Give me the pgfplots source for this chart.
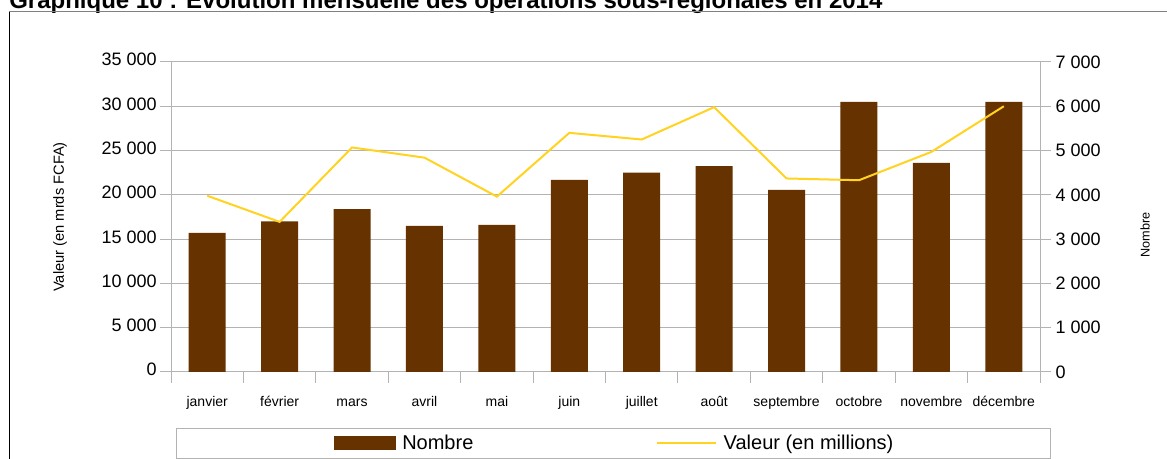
\documentclass[border=0pt]{standalone}
\usepackage{fontspec}
\setmainfont{Liberation Sans}
\usepackage{pgfplots}
\usepackage{pgfplotstable}
\pgfplotsset{compat=1.18}
\definecolor{barbrown}{HTML}{663300}
\definecolor{lineyellow}{HTML}{FFD320}
\definecolor{gridgray}{HTML}{B3B3B3}

\pgfplotstableread{
x nombre valeur
0  15700 3980
1  17000 3390
2  18400 5070
3  16500 4840
4  16600 3960
5  21700 5400
6  22500 5250
7  23250 5980
8  20550 4370
9  30500 4330
10 23600 4970
11 30500 6000
}\data

\pgfplotsset{
  common/.style={
    at={(128.25pt,65.25pt)}, anchor=south west,
    scale only axis, width=651.75pt, height=232.5pt,
    xmin=-0.5, xmax=11.5,
    axis line style={gridgray, line width=0.75pt},
    tick style={gridgray, line width=0.75pt},
    tick align=outside,
    major tick length=8.25pt,
    minor tick length=8.25pt,
    clip=false,
    scaled y ticks=false,
    /pgf/number format/.cd, 1000 sep={\ }, assume math mode=true,
  },
}

\begin{document}
\begin{tikzpicture}
\useasboundingbox (0pt,0pt) rectangle (875.25pt,344.25pt);
\clip (0pt,0pt) rectangle (875.25pt,344.25pt);

\node[anchor=base west, inner sep=0pt, font=\fontsize{18}{21}\selectfont\bfseries] at (6.75pt,338pt)
  {Graphique 10 : Evolution mensuelle des opérations sous-régionales en 2014};
\draw[black, line width=0.75pt] (6.75pt,-5pt) -- (6.75pt,335.6pt);
\draw[gray, line width=0.75pt] (6.75pt,335.6pt) -- (880pt,335.6pt);

\begin{axis}[common,
  ymin=0, ymax=35000,
  axis x line*=bottom, axis y line*=left,
  xtick={0,...,11},
  xticklabels={janvier,février,mars,avril,mai,juin,juillet,août,septembre,octobre,novembre,décembre},
  major x tick style={draw=none},
  minor xtick={-0.5,0.5,...,11.5},
  ytick={0,5000,...,35000},
  ymajorgrids,
  grid style={gridgray, line width=0.75pt},
  yticklabel style={font=\fontsize{13.5}{15}\selectfont, xshift=1pt},
  typeset ticklabels with strut,
  xticklabel style={font=\fontsize{10.5}{12}\selectfont, yshift=-5.5pt},
  ylabel={Valeur (en mrds FCFA)},
  ylabel style={font=\fontsize{11}{13}\selectfont, at={(axis description cs:-0.1277,0.5)}, anchor=center},
]
\addplot[ybar, bar width=27.75pt, fill=barbrown, draw=none] table[x=x, y=nombre] {\data};
\end{axis}

\begin{axis}[common,
  ymin=0, ymax=7000,
  axis x line=none, axis y line*=right,
  ytick={0,1000,...,7000},
  yticklabel style={font=\fontsize{13.5}{15}\selectfont},
  ylabel={Nombre},
  ylabel style={font=\fontsize{9.5}{11}\selectfont, at={(axis description cs:1.1208,0.442)}, anchor=center},
  legend columns=2,
  legend style={at={(axis description cs:0.5092,-0.2306)}, anchor=center,
    draw=gridgray, line width=0.75pt,
    font=\fontsize{15}{18}\selectfont,
    inner xsep=118pt, inner ysep=5.25pt,
    nodes={inner sep=0pt},
    /tikz/every odd column/.append style={column sep=5pt},
    /tikz/every even column/.append style={column sep=137pt},
  },
]
\addlegendimage{legend image code/.code={\fill[barbrown] (0pt,-4.875pt) rectangle (45.75pt,4.875pt);}}
\addlegendentry{Nombre}
\addplot[lineyellow, line width=1.5pt, no markers,
  legend image code/.code={\draw[lineyellow, line width=1.5pt] (0pt,0pt) -- (44.25pt,0pt);}]
  table[x=x, y=valeur] {\data};
\addlegendentry{Valeur (en millions)}
\end{axis}
\end{tikzpicture}
\end{document}
